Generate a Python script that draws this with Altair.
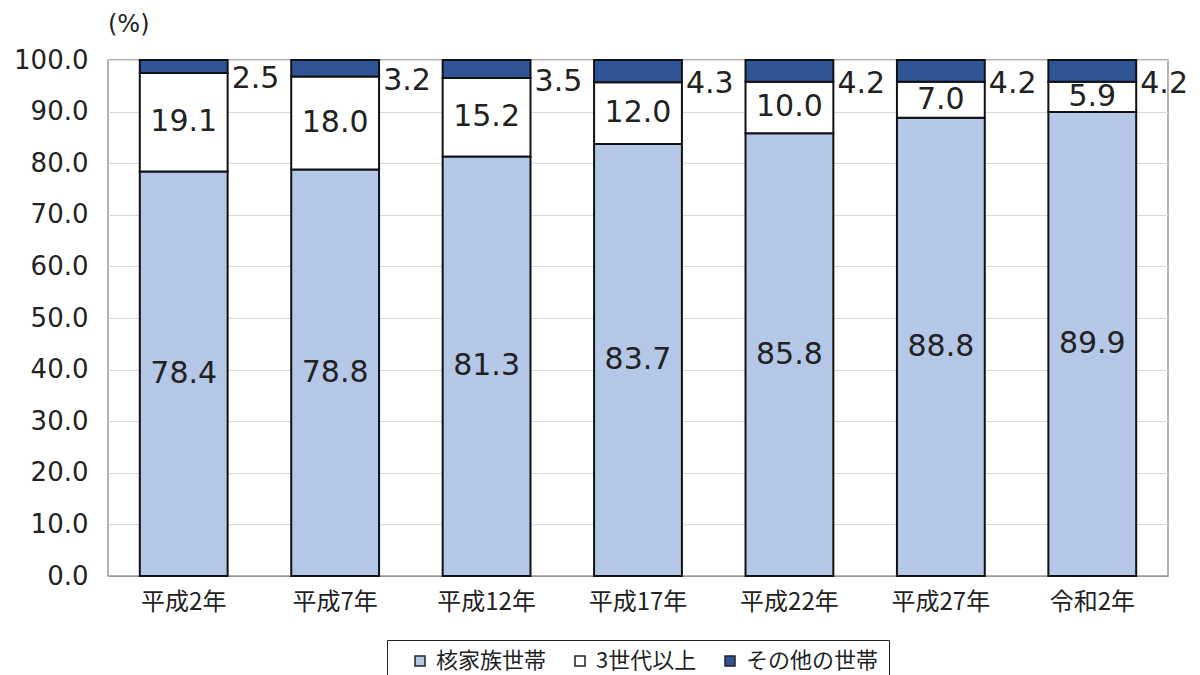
import altair as alt
import pandas as pd

years = ["平成2年", "平成7年", "平成12年", "平成17年", "平成22年", "平成27年", "令和2年"]
nuclear = [78.4, 78.8, 81.3, 83.7, 85.8, 88.8, 89.9]
three_gen = [19.1, 18.0, 15.2, 12.0, 10.0, 7.0, 5.9]
other = [2.5, 3.2, 3.5, 4.3, 4.2, 4.2, 4.2]
series = ["核家族世帯", "3世代以上", "その他の世帯"]
colors = ["#B4C7E7", "#FFFFFF", "#2F5597"]

rows = []
for i, y in enumerate(years):
    vals = [nuclear[i], three_gen[i], other[i]]
    base = 0.0
    for k, s in enumerate(series):
        rows.append({"year": y, "series": s, "value": vals[k], "order": k,
                     "y0": base, "y1": base + vals[k], "mid": base + vals[k] / 2,
                     "label": f"{vals[k]:.1f}"})
        base += vals[k]
df = pd.DataFrame(rows)

JP = "Noto Sans CJK JP"
NUM = "DejaVu Sans"

x = alt.X("year:N", sort=years, title=None,
          axis=alt.Axis(labelAngle=0, labelFontSize=24, labelFont=JP, labelColor="#222",
                        ticks=False, domainColor="#999", labelPadding=14),
          scale=alt.Scale(paddingInner=0.42, paddingOuter=0.21))

bars = alt.Chart(df).mark_bar(stroke="#111", strokeWidth=2).encode(
    x=x,
    y=alt.Y("y0:Q", title=None, scale=alt.Scale(domain=[0, 100]),
            axis=alt.Axis(values=list(range(0, 101, 10)), format=".1f", labelFontSize=26,
                          labelFont=NUM, labelColor="#222", ticks=False, domain=False,
                          gridColor="#d9d9d9", labelPadding=20)),
    y2="y1:Q",
    color=alt.Color("series:N", scale=alt.Scale(domain=series, range=colors),
                    legend=alt.Legend(title=None, orient="none", direction="horizontal",
                                      legendX=279, legendY=580, labelFontSize=22, labelFont=JP,
                                      labelColor="#222", symbolType="square", symbolSize=100,
                                      symbolStrokeColor="#222", symbolStrokeWidth=1.5,
                                      symbolOffset=12, labelOffset=5,
                                      strokeColor="#222", padding=10, columnPadding=10)),
    order="order:Q",
)

inner = alt.Chart(df[df["order"] < 2]).mark_text(fontSize=30, font=NUM, color="#222").encode(
    x=x, y=alt.Y("mid:Q"), text="label:N")

outer = alt.Chart(df[df["order"] == 2]).mark_text(fontSize=30, font=NUM, color="#222",
                                                 align="left", dx=48, dy=13).encode(
    x=x, y=alt.Y("mid:Q"), text="label:N")

chart = alt.layer(bars, inner, outer).properties(
    width=1060, height=516,
    title=alt.TitleParams("(%)", anchor="start", frame="group", fontSize=24, font=NUM,
                          fontWeight="normal", color="#222", offset=10),
    autosize=alt.AutoSizeParams(type="none"),
    padding={"left": 100, "top": 52, "right": 24, "bottom": 120},
).configure_view(stroke="#999", strokeWidth=1.5)

chart.save("out.html", embed_options={"renderer": "svg", "actions": False})
